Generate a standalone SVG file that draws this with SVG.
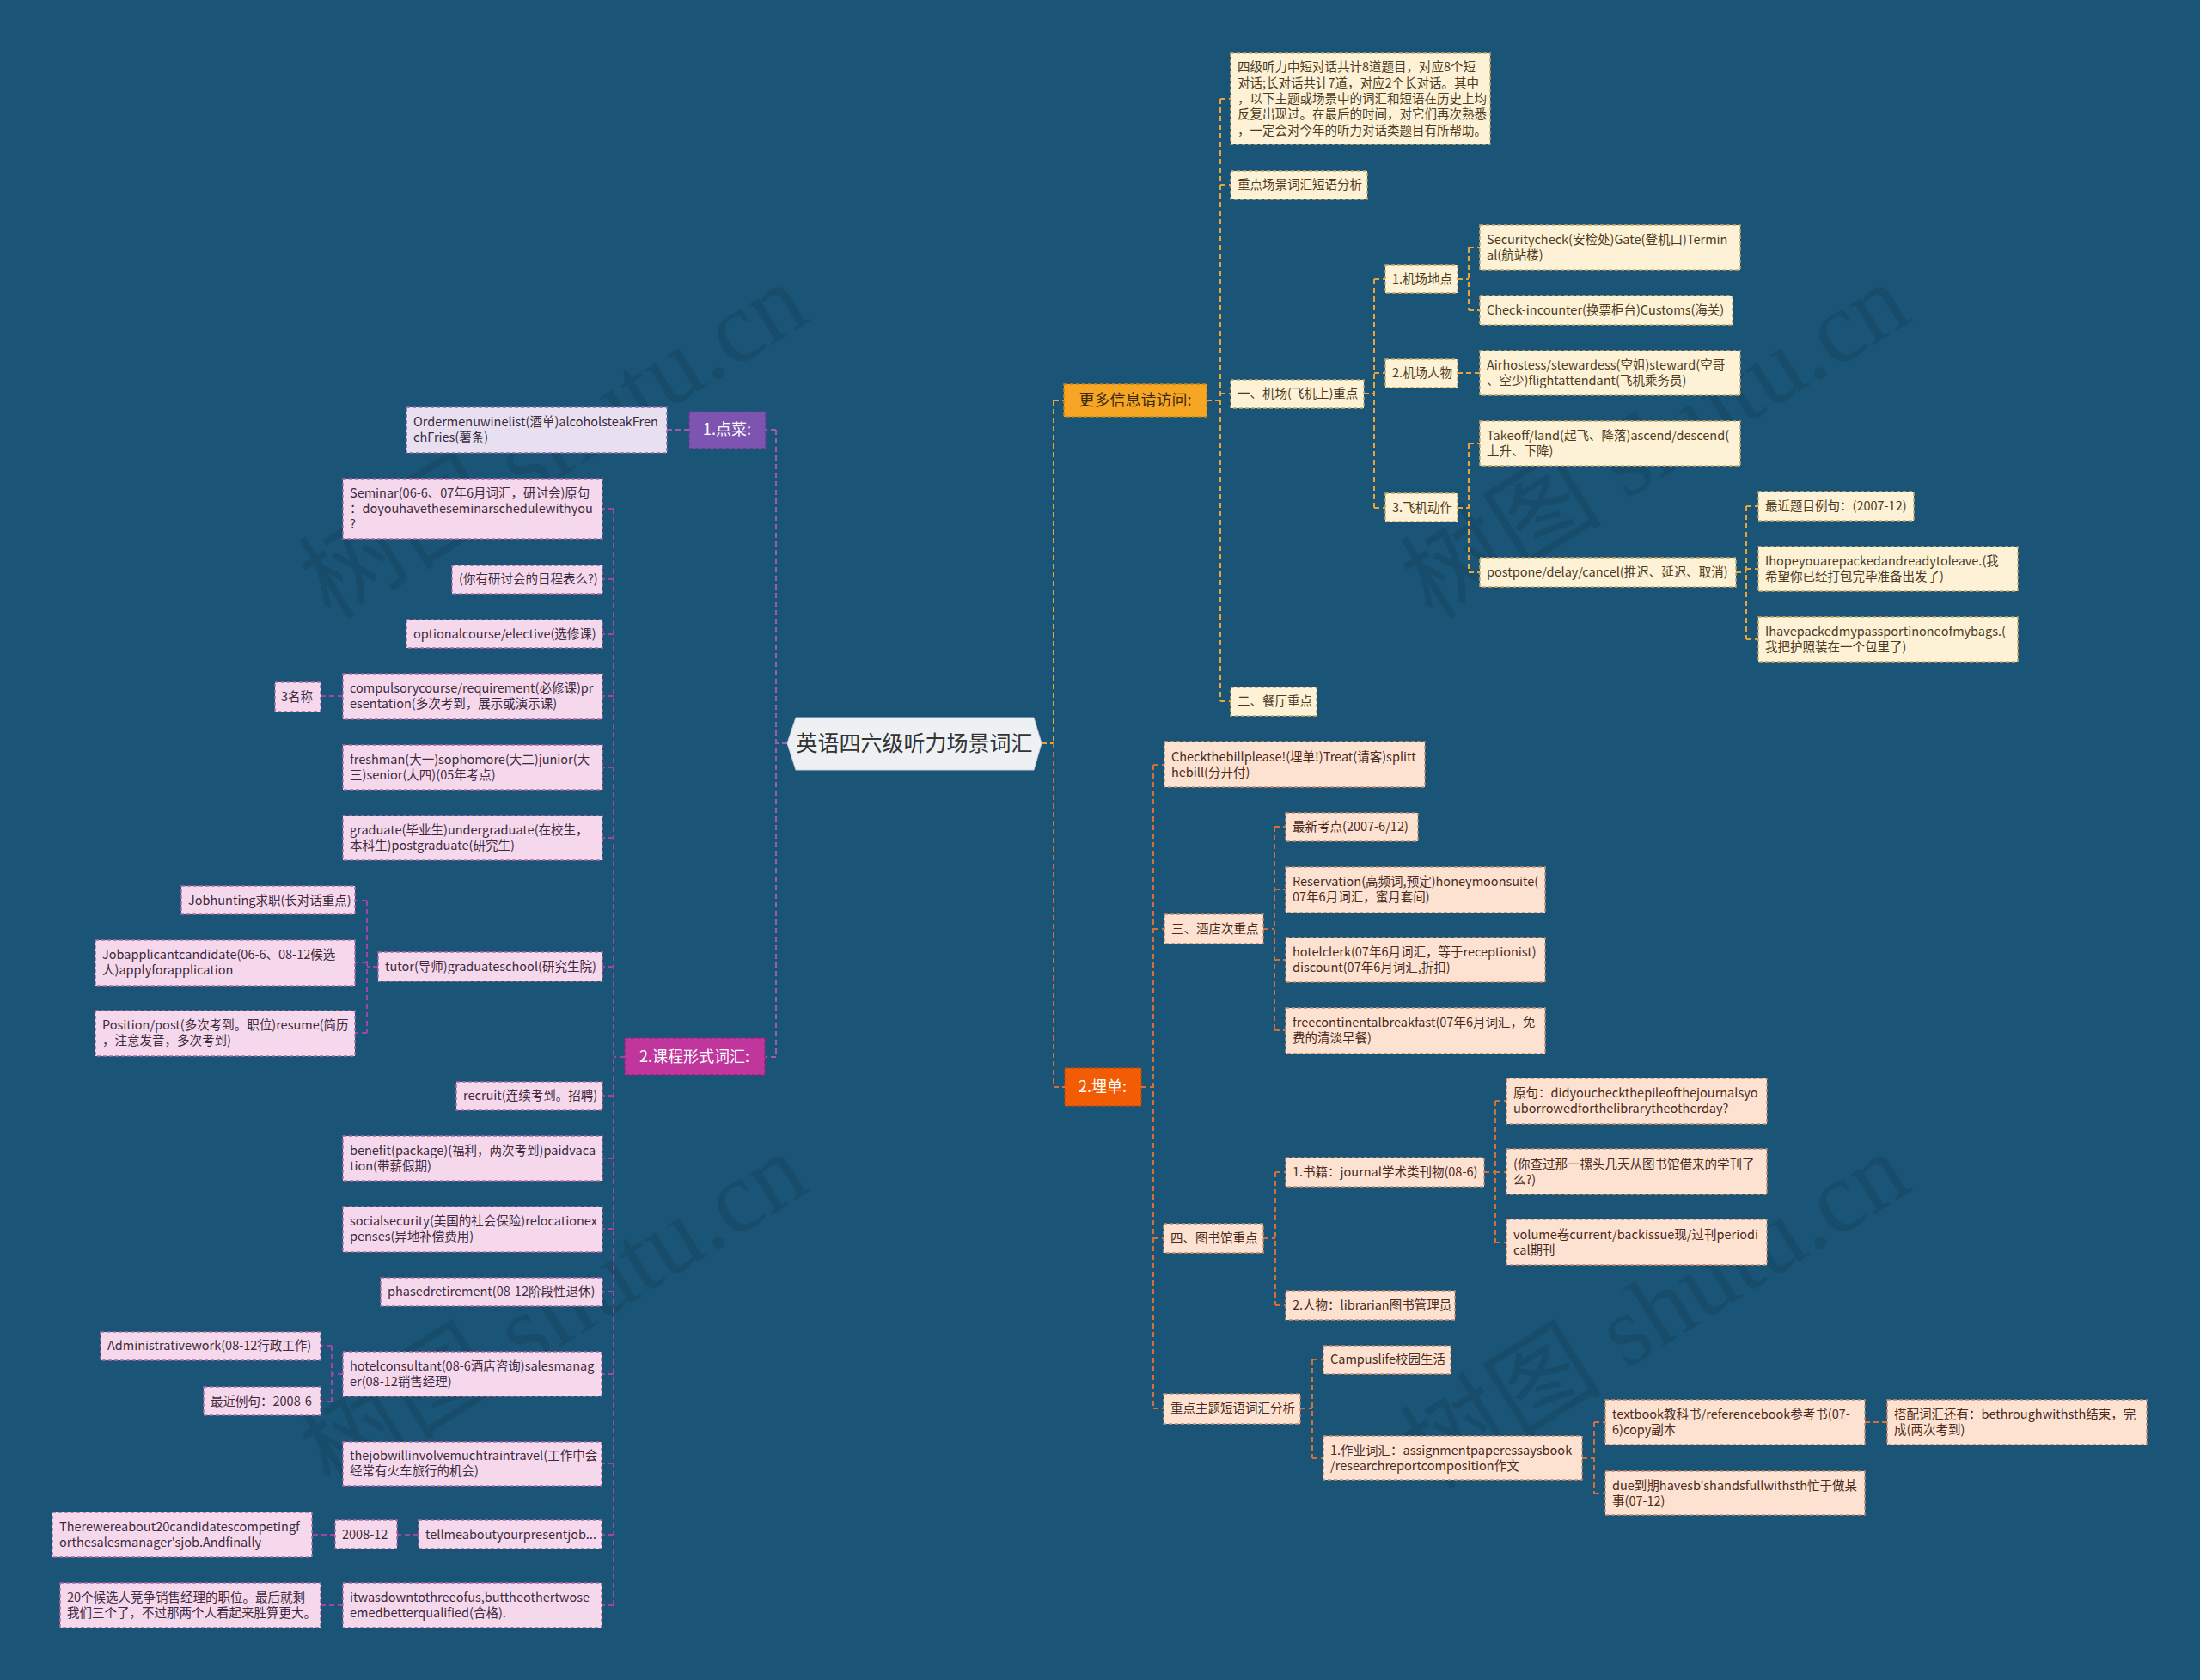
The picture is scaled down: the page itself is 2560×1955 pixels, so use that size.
<svg xmlns="http://www.w3.org/2000/svg" width="2560" height="1955" viewBox="0 0 2560 1955">
<style>
text{font-family:"Noto Sans CJK SC","Noto Sans",sans-serif}
.t{font-size:14.5px}
.tc{fill:#4d3b1f}
.tp{fill:#4a2a1c}
.tl{fill:#3d2b3d}
.cr{fill:#fdf1d6;stroke:#c9a765;stroke-width:1.5;stroke-dasharray:4 3}
.pr{fill:#fde2d2;stroke:#c98a6a;stroke-width:1.5;stroke-dasharray:4 3}
.lv{fill:#e8e0f1;stroke:#8d6aa8;stroke-width:1.5;stroke-dasharray:4 3}
.pk{fill:#f5d8ec;stroke:#b06aa0;stroke-width:1.5;stroke-dasharray:4 3}
.br{font-size:18px;text-anchor:middle}
.ca{fill:none;stroke:#e8a43a;stroke-width:2;stroke-dasharray:6 4}
.cb{fill:none;stroke:#d2703a;stroke-width:2;stroke-dasharray:6 4}
.cl{fill:none;stroke:#a05cb5;stroke-width:2;stroke-dasharray:6 4}
.cm{fill:none;stroke:#a045a8;stroke-width:2;stroke-dasharray:6 4}
.wm{font-family:"Liberation Serif","Noto Sans CJK SC",serif;font-size:118px;fill:#000;opacity:0.1}
</style>
<rect x="0" y="0" width="2560" height="1955" fill="#1a5578"/>

<g id="watermarks">
<text class="wm" x="645" y="553" text-anchor="middle" transform="rotate(-32 645 515)">树图 shutu.cn</text>
<text class="wm" x="1927" y="553" text-anchor="middle" transform="rotate(-32 1927 515)">树图 shutu.cn</text>
<text class="wm" x="645" y="1565" text-anchor="middle" transform="rotate(-32 645 1527)">树图 shutu.cn</text>
<text class="wm" x="1927" y="1565" text-anchor="middle" transform="rotate(-32 1927 1527)">树图 shutu.cn</text>
</g>

<g id="connectors">
<path class="ca" d="M1212 865H1226M1226 466V865M1226 466H1238"/>
<path class="cb" d="M1226 865V1265H1239"/>
<path class="ca" d="M1404 466H1420M1420 115V816M1420 115H1432M1420 215H1432M1420 458H1432M1420 816H1432"/>
<path class="ca" d="M1587 458H1599M1599 325V591M1599 325H1612M1599 434H1612M1599 591H1612"/>
<path class="ca" d="M1696 325H1709M1709 288V361M1709 288H1722M1709 361H1722"/>
<path class="ca" d="M1696 434H1722"/>
<path class="ca" d="M1696 591H1709M1709 516V666M1709 516H1722M1709 666H1722"/>
<path class="ca" d="M2020 666H2032M2032 589V744M2032 589H2046M2032 662H2046M2032 744H2046"/>
<path class="cb" d="M1328 1265H1342M1342 890V1639M1342 890H1355M1342 1081H1355M1342 1441H1354M1342 1639H1354"/>
<path class="cb" d="M1470 1081H1483M1483 962V1199M1483 962H1496M1483 1035H1496M1483 1117H1496M1483 1199H1496"/>
<path class="cb" d="M1470 1441H1484M1484 1364V1519M1484 1364H1496M1484 1519H1496"/>
<path class="cb" d="M1727 1364H1740M1740 1281V1446M1740 1281H1753M1740 1364H1753M1740 1446H1753"/>
<path class="cb" d="M1513 1639H1527M1527 1582V1697M1527 1582H1540M1527 1697H1540"/>
<path class="cb" d="M1841 1697H1855M1855 1655V1738M1855 1655H1868M1855 1738H1868"/>
<path class="cb" d="M2170 1655H2196"/>
<path class="cl" d="M916 865H903M903 500V1230M903 500H891M903 1230H890"/>
<path class="cl" d="M802 500H776"/>
<path class="cm" d="M727 1230H714M714 592V1868M714 592H701M714 674H701M714 738H701M714 810H701M714 893H701M714 975H701M714 1125H701M714 1275H701M714 1348H701M714 1430H701M714 1503H701M714 1599H700M714 1703H700M714 1786H700M714 1868H700"/>
<path class="cm" d="M399 810H373"/>
<path class="cm" d="M440 1125H427M427 1048V1202M427 1048H413M427 1120H413M427 1202H413"/>
<path class="cm" d="M399 1599H386M386 1566V1631M386 1566H373M386 1631H373"/>
<path class="cm" d="M487 1786H462M390 1786H363"/>
<path class="cm" d="M399 1868H373"/>
</g>

<g id="root">
<polygon points="916,865 926,835 1203,835 1212,865 1203,896 926,896" fill="#eef1f4" stroke="#c8ced6" stroke-width="1"/>
<text x="1064" y="874" font-size="25" text-anchor="middle" fill="#333">英语四六级听力场景词汇</text>
</g>

<g id="b-more">
<rect x="1238" y="447" width="166" height="38" fill="#f6a623" stroke="#c98216" stroke-width="1.5" stroke-dasharray="4 3"/>
<text class="br" x="1321" y="472" fill="#3b2a10">更多信息请访问:</text>
</g>
<g id="n-intro">
<rect class="cr" x="1432" y="62" width="302" height="106"/>
<text class="t tc"><tspan x="1440" y="83.2">四级听力中短对话共计8道题目，对应8个短</tspan><tspan x="1440" y="101.6">对话;长对话共计7道，对应2个长对话。其中</tspan><tspan x="1440" y="120">，以下主题或场景中的词汇和短语在历史上均</tspan><tspan x="1440" y="138.4">反复出现过。在最后的时间，对它们再次熟悉</tspan><tspan x="1440" y="156.8">，一定会对今年的听力对话类题目有所帮助。</tspan></text>
</g>
<g id="n-key"><rect class="cr" x="1432" y="199" width="159" height="33"/><text class="t tc" x="1440" y="220">重点场景词汇短语分析</text></g>
<g id="n-airport"><rect class="cr" x="1432" y="442" width="155" height="33"/><text class="t tc" x="1440" y="463">一、机场(飞机上)重点</text></g>
<g id="n-rest"><rect class="cr" x="1432" y="800" width="100" height="33"/><text class="t tc" x="1440" y="821">二、餐厅重点</text></g>
<g id="n-a1"><rect class="cr" x="1612" y="308" width="84" height="33"/><text class="t tc" x="1620" y="330">1.机场地点</text></g>
<g id="n-a2"><rect class="cr" x="1612" y="418" width="84" height="33"/><text class="t tc" x="1620" y="439">2.机场人物</text></g>
<g id="n-a3"><rect class="cr" x="1612" y="574" width="84" height="33"/><text class="t tc" x="1620" y="596">3.飞机动作</text></g>
<g id="n-sec"><rect class="cr" x="1722" y="262" width="303" height="52"/><text class="t tc"><tspan x="1730" y="283.8">Securitycheck(安检处)Gate(登机口)Termin</tspan><tspan x="1730" y="302.2">al(航站楼)</tspan></text></g>
<g id="n-check"><rect class="cr" x="1722" y="344" width="294" height="34"/><text class="t tc" x="1730" y="366">Check-incounter(换票柜台)Customs(海关)</text></g>
<g id="n-air"><rect class="cr" x="1722" y="408" width="303" height="52"/><text class="t tc"><tspan x="1730" y="429.8">Airhostess/stewardess(空姐)steward(空哥</tspan><tspan x="1730" y="448.2">、空少)flightattendant(飞机乘务员)</tspan></text></g>
<g id="n-take"><rect class="cr" x="1722" y="490" width="303" height="52"/><text class="t tc"><tspan x="1730" y="511.8">Takeoff/land(起飞、降落)ascend/descend(</tspan><tspan x="1730" y="530.2">上升、下降)</tspan></text></g>
<g id="n-post"><rect class="cr" x="1722" y="649" width="298" height="34"/><text class="t tc" x="1730" y="671">postpone/delay/cancel(推迟、延迟、取消)</text></g>
<g id="n-recent"><rect class="cr" x="2046" y="572" width="181" height="34"/><text class="t tc" x="2054" y="594">最近题目例句：(2007-12)</text></g>
<g id="n-hope"><rect class="cr" x="2046" y="636" width="302" height="52"/><text class="t tc"><tspan x="2054" y="657.8">Ihopeyouarepackedandreadytoleave.(我</tspan><tspan x="2054" y="676.2">希望你已经打包完毕准备出发了)</tspan></text></g>
<g id="n-pass"><rect class="cr" x="2046" y="718" width="302" height="52"/><text class="t tc"><tspan x="2054" y="739.8">Ihavepackedmypassportinoneofmybags.(</tspan><tspan x="2054" y="758.2">我把护照装在一个包里了)</tspan></text></g>

<g id="b-bill">
<rect x="1239" y="1243" width="89" height="44" fill="#f25c05" stroke="#c44a04" stroke-width="1.5" stroke-dasharray="4 3"/>
<text class="br" x="1283" y="1271" fill="#ffffff">2.埋单:</text>
</g>
<g id="n-checkbill"><rect class="pr" x="1355" y="863" width="303" height="53"/><text class="t tp"><tspan x="1363" y="885.8">Checkthebillplease!(埋单!)Treat(请客)splitt</tspan><tspan x="1363" y="904.2">hebill(分开付)</tspan></text></g>
<g id="n-hotel"><rect class="pr" x="1355" y="1064" width="115" height="34"/><text class="t tp" x="1363" y="1086">三、酒店次重点</text></g>
<g id="n-lib"><rect class="pr" x="1354" y="1424" width="116" height="34"/><text class="t tp" x="1362" y="1446">四、图书馆重点</text></g>
<g id="n-theme"><rect class="pr" x="1354" y="1622" width="159" height="35"/><text class="t tp" x="1362" y="1644">重点主题短语词汇分析</text></g>
<g id="n-h1"><rect class="pr" x="1496" y="946" width="154" height="33"/><text class="t tp" x="1504" y="967">最新考点(2007-6/12)</text></g>
<g id="n-h2"><rect class="pr" x="1496" y="1009" width="302" height="53"/><text class="t tp"><tspan x="1504" y="1030.8">Reservation(高频词,预定)honeymoonsuite(</tspan><tspan x="1504" y="1049.2">07年6月词汇，蜜月套间)</tspan></text></g>
<g id="n-h3"><rect class="pr" x="1496" y="1091" width="302" height="52"/><text class="t tp"><tspan x="1504" y="1112.8">hotelclerk(07年6月词汇，等于receptionist)</tspan><tspan x="1504" y="1131.2">discount(07年6月词汇,折扣)</tspan></text></g>
<g id="n-h4"><rect class="pr" x="1496" y="1173" width="302" height="53"/><text class="t tp"><tspan x="1504" y="1194.8">freecontinentalbreakfast(07年6月词汇，免</tspan><tspan x="1504" y="1213.2">费的清淡早餐)</tspan></text></g>
<g id="n-l1"><rect class="pr" x="1496" y="1347" width="231" height="34"/><text class="t tp" x="1504" y="1369">1.书籍：journal学术类刊物(08-6)</text></g>
<g id="n-l2"><rect class="pr" x="1496" y="1502" width="197" height="34"/><text class="t tp" x="1504" y="1524">2.人物：librarian图书管理员</text></g>
<g id="n-l1a"><rect class="pr" x="1753" y="1255" width="303" height="53"/><text class="t tp"><tspan x="1761" y="1276.8">原句：didyoucheckthepileofthejournalsyo</tspan><tspan x="1761" y="1295.2">uborrowedforthelibrarytheotherday?</tspan></text></g>
<g id="n-l1b"><rect class="pr" x="1753" y="1337" width="303" height="53"/><text class="t tp"><tspan x="1761" y="1359.8">(你查过那一摞头几天从图书馆借来的学刊了</tspan><tspan x="1761" y="1378.2">么?)</tspan></text></g>
<g id="n-l1c"><rect class="pr" x="1753" y="1419" width="303" height="53"/><text class="t tp"><tspan x="1761" y="1441.8">volume卷current/backissue现/过刊periodi</tspan><tspan x="1761" y="1460.2">cal期刊</tspan></text></g>
<g id="n-t1"><rect class="pr" x="1540" y="1566" width="148" height="33"/><text class="t tp" x="1548" y="1587">Campuslife校园生活</text></g>
<g id="n-t2"><rect class="pr" x="1540" y="1671" width="301" height="51"/><text class="t tp"><tspan x="1548" y="1692.8">1.作业词汇：assignmentpaperessaysbook</tspan><tspan x="1548" y="1711.2">/researchreportcomposition作文</tspan></text></g>
<g id="n-t2a"><rect class="pr" x="1868" y="1629" width="302" height="52"/><text class="t tp"><tspan x="1876" y="1650.8">textbook教科书/referencebook参考书(07-</tspan><tspan x="1876" y="1669.2">6)copy副本</tspan></text></g>
<g id="n-t2b"><rect class="pr" x="1868" y="1712" width="302" height="51"/><text class="t tp"><tspan x="1876" y="1733.8">due到期havesb'shandsfullwithsth忙于做某</tspan><tspan x="1876" y="1752.2">事(07-12)</tspan></text></g>
<g id="n-t2a1"><rect class="pr" x="2196" y="1629" width="302" height="52"/><text class="t tp"><tspan x="2204" y="1650.8">搭配词汇还有：bethroughwithsth结束，完</tspan><tspan x="2204" y="1669.2">成(两次考到)</tspan></text></g>

<g id="b-order">
<rect x="802" y="479" width="89" height="43" fill="#7d55b0" stroke="#5e3d8c" stroke-width="1.5" stroke-dasharray="4 3"/>
<text class="br" x="846" y="506" fill="#ffffff">1.点菜:</text>
</g>
<g id="b-course">
<rect x="727" y="1208" width="163" height="43" fill="#c1369c" stroke="#922476" stroke-width="1.5" stroke-dasharray="4 3"/>
<text class="br" x="808" y="1236" fill="#ffffff">2.课程形式词汇:</text>
</g>
<g id="n-order"><rect class="lv" x="473" y="474" width="303" height="53"/><text class="t tl"><tspan x="481" y="495.8">Ordermenuwinelist(酒单)alcoholsteakFren</tspan><tspan x="481" y="514.2">chFries(薯条)</tspan></text></g>
<g id="n-seminar"><rect class="pk" x="399" y="557" width="302" height="70"/><text class="t tl"><tspan x="407" y="578.6">Seminar(06-6、07年6月词汇，研讨会)原句</tspan><tspan x="407" y="597">：doyouhavetheseminarschedulewithyou</tspan><tspan x="407" y="615.4">?</tspan></text></g>
<g id="n-sch"><rect class="pk" x="526" y="658" width="175" height="33"/><text class="t tl" x="534" y="679">(你有研讨会的日程表么?)</text></g>
<g id="n-opt"><rect class="pk" x="473" y="721" width="228" height="33"/><text class="t tl" x="481" y="743">optionalcourse/elective(选修课)</text></g>
<g id="n-comp"><rect class="pk" x="399" y="784" width="302" height="53"/><text class="t tl"><tspan x="407" y="805.8">compulsorycourse/requirement(必修课)pr</tspan><tspan x="407" y="824.2">esentation(多次考到，展示或演示课)</tspan></text></g>
<g id="n-3name"><rect class="pk" x="320" y="794" width="53" height="34"/><text class="t tl" x="327" y="816">3名称</text></g>
<g id="n-fresh"><rect class="pk" x="399" y="867" width="302" height="52"/><text class="t tl"><tspan x="407" y="888.8">freshman(大一)sophomore(大二)junior(大</tspan><tspan x="407" y="907.2">三)senior(大四)(05年考点)</tspan></text></g>
<g id="n-grad"><rect class="pk" x="399" y="949" width="302" height="52"/><text class="t tl"><tspan x="407" y="970.8">graduate(毕业生)undergraduate(在校生，</tspan><tspan x="407" y="989.2">本科生)postgraduate(研究生)</tspan></text></g>
<g id="n-tutor"><rect class="pk" x="440" y="1108" width="261" height="34"/><text class="t tl" x="448" y="1130">tutor(导师)graduateschool(研究生院)</text></g>
<g id="n-jobh"><rect class="pk" x="211" y="1031" width="202" height="33"/><text class="t tl" x="219" y="1053">Jobhunting求职(长对话重点)</text></g>
<g id="n-joba"><rect class="pk" x="111" y="1094" width="302" height="53"/><text class="t tl"><tspan x="119" y="1115.8">Jobapplicantcandidate(06-6、08-12候选</tspan><tspan x="119" y="1134.2">人)applyforapplication</tspan></text></g>
<g id="n-pos"><rect class="pk" x="111" y="1176" width="302" height="53"/><text class="t tl"><tspan x="119" y="1197.8">Position/post(多次考到。职位)resume(简历</tspan><tspan x="119" y="1216.2">，注意发音，多次考到)</tspan></text></g>
<g id="n-recruit"><rect class="pk" x="531" y="1259" width="170" height="33"/><text class="t tl" x="539" y="1280">recruit(连续考到。招聘)</text></g>
<g id="n-benefit"><rect class="pk" x="399" y="1322" width="302" height="52"/><text class="t tl"><tspan x="407" y="1343.8">benefit(package)(福利，两次考到)paidvaca</tspan><tspan x="407" y="1362.2">tion(带薪假期)</tspan></text></g>
<g id="n-social"><rect class="pk" x="399" y="1404" width="302" height="53"/><text class="t tl"><tspan x="407" y="1425.8">socialsecurity(美国的社会保险)relocationex</tspan><tspan x="407" y="1444.2">penses(异地补偿费用)</tspan></text></g>
<g id="n-phased"><rect class="pk" x="443" y="1487" width="258" height="33"/><text class="t tl" x="451" y="1508">phasedretirement(08-12阶段性退休)</text></g>
<g id="n-hcons"><rect class="pk" x="399" y="1573" width="301" height="52"/><text class="t tl"><tspan x="407" y="1594.8">hotelconsultant(08-6酒店咨询)salesmanag</tspan><tspan x="407" y="1613.2">er(08-12销售经理)</tspan></text></g>
<g id="n-admin"><rect class="pk" x="117" y="1550" width="256" height="33"/><text class="t tl" x="125" y="1571">Administrativework(08-12行政工作)</text></g>
<g id="n-rec6"><rect class="pk" x="237" y="1614" width="136" height="33"/><text class="t tl" x="245" y="1636">最近例句：2008-6</text></g>
<g id="n-train"><rect class="pk" x="399" y="1678" width="301" height="51"/><text class="t tl"><tspan x="407" y="1698.8">thejobwillinvolvemuchtraintravel(工作中会</tspan><tspan x="407" y="1717.2">经常有火车旅行的机会)</tspan></text></g>
<g id="n-tell"><rect class="pk" x="487" y="1769" width="213" height="33"/><text class="t tl" x="495" y="1791">tellmeaboutyourpresentjob...</text></g>
<g id="n-2008"><rect class="pk" x="390" y="1769" width="72" height="33"/><text class="t tl" x="398" y="1791">2008-12</text></g>
<g id="n-there"><rect class="pk" x="61" y="1760" width="302" height="52"/><text class="t tl"><tspan x="69" y="1781.8">Therewereabout20candidatescompetingf</tspan><tspan x="69" y="1800.2">orthesalesmanager'sjob.Andfinally</tspan></text></g>
<g id="n-down"><rect class="pk" x="399" y="1842" width="301" height="52"/><text class="t tl"><tspan x="407" y="1863.8">itwasdowntothreeofus,buttheothertwose</tspan><tspan x="407" y="1882.2">emedbetterqualified(合格).</tspan></text></g>
<g id="n-20"><rect class="pk" x="70" y="1842" width="303" height="52"/><text class="t tl"><tspan x="78" y="1863.8">20个候选人竞争销售经理的职位。最后就剩</tspan><tspan x="78" y="1882.2">我们三个了，不过那两个人看起来胜算更大。</tspan></text></g>
</svg>
